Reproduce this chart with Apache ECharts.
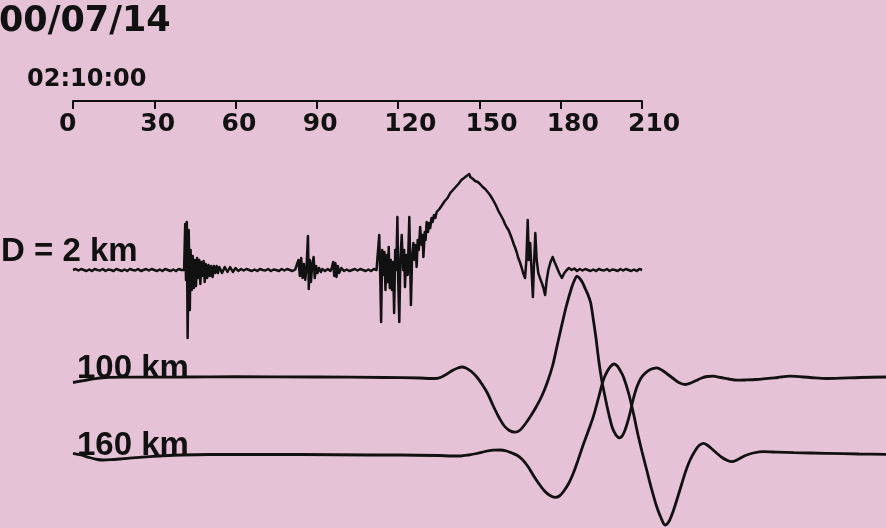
<!DOCTYPE html>
<html>
<head>
<meta charset="utf-8">
<script src="https://cdn.jsdelivr.net/npm/echarts@6/dist/echarts.min.js"></script>
<style>
html,body{margin:0;padding:0;background:#E6C2D7;}
#c{width:886px;height:528px;}
</style>
</head>
<body>
<div id="c"></div>
<script>
// ---- data ----
const titleText = '00/07/14';
const timeOrigin = '02:10:00';
const axisTicks = [0, 30, 60, 90, 120, 150, 180, 210];
const traceLabels = ['D = 2 km', '100 km', '160 km'];

// D = 2 km : times (s) and amplitudes (arbitrary units, up positive)
const dTimes = [
 0,1,2,3,4,5,6,7,8,9,10,11,12,13,14,15,16,17,18,19,20,21,22,23,24,25,26,27,28,29,30,31,32,33,34,35,36,37,38,39,40,
 41.0,41.4,41.7,42.0,42.3,42.7,43.1,43.4,43.8,44.2,44.6,45.0,45.4,45.8,46.2,46.6,47.0,47.4,47.8,48.2,48.6,49.0,49.5,50.0,50.5,51.0,51.5,52.0,52.5,53.0,53.5,54,55,56,57,58,59,60,61,
 62,63,64,65,66,67,68,69,70,71,72,73,74,75,76,77,78,79,80,81,82,
 82.5,83.2,83.7,84.2,84.7,85.2,85.7,86.2,86.7,87.0,87.4,87.8,88.3,88.8,89.2,89.7,90.2,90.8,91.5,92,93,94,95,95.5,96.0,96.4,96.8,97.2,97.7,98.2,99,
 100,101,102,103,104,105,106,107,108,109,110,111,112,
 112.5,113.0,113.4,113.7,114.1,114.5,114.9,115.3,115.7,116.1,116.5,116.9,117.3,117.7,118.1,118.5,118.9,119.3,119.7,120.0,120.4,120.8,121.3,121.8,122.2,122.5,123.0,123.5,124.1,124.4,124.7,125.1,125.6,126.0,126.4,126.8,127.2,127.6,128.1,128.6,129.0,129.3,129.8,130.1,130.5,131.0,131.4,131.8,132.3,132.7,133.2,133.7,134.2,134.7,135.2,135.7,136.2,136.7,137.2,137.7,138.2,138.7,139.2,139.7,140.2,140.7,141.2,141.7,142.2,142.8,143.3,143.8,144.3,144.7,145.2,145.7,146.2,146.6,147.1,147.6,148.0,148.4,148.9,149.4,149.8,150.2,150.7,151.2,151.6,152.1,152.6,153.0,153.5,153.9,154.5,155.0,155.5,156.0,156.4,157.0,157.6,158.2,158.8,159.4,160.0,160.7,161.3,162.0,162.6,163.2,163.7,164.3,164.9,165.6,166.2,166.8,167.3,167.8,168.2,168.7,169.2,169.7,170.1,170.6,171.1,171.7,172.3,173.0,173.6,174.2,174.8,175.4,176.2,177.0,177.7,178.5,179.4,180.4,181.3,182.2,
 183,184,185,186,187,188,189,190,191,192,193,194,195,196,197,198,199,200,201,202,203,204,205,206,207,208,209,210
];
const dValues = [
 0,1,-0.5,1,0,-1,0.5,-1,1,0,-0.5,1,-1,0.5,0,-1,1,0,-1,0.5,-1,1,0,-0.5,1,-1,0,1,-0.5,1,0,-1,0.5,-1,1,0,-1,0.5,-1,1,0,
 0,46,-10,48,-68,40,-40,20,-20,14,-18,10,-16,12,-8,10,-14,8,-6,9,-12,6,-8,5,-6,4,-7,4,-3,4,-3,3,-3,3,-2,3,-2,2,-1,
 1,-0.5,1,0,-1,0.5,-1,1,0,-0.5,1,-1,0.5,0,-1,1,-0.5,1,0,-1,0.5,
 0,10,-6,12,-8,6,-10,4,34,-19,10,-12,6,13,-8,4,-3,2,-2,1,-1,1,-1,2,8,-6,7,-7,4,-3,2,
 -1,0.5,-1,0,1,-0.5,1,0,-1,0.5,-1,1,0,
 0,35,-10,-52,20,-5,18,-20,15,-12,23,-18,10,-20,8,-43,20,0,53,-10,-52,10,35,0,20,-17,15,-5,53,10,-35,10,27,10,25,3,30,20,43,25,35,13,38,30,48,38,47,42,52,48,55,52,58,56,61,60,65,64,69,68,72,72,77,76,80,79,83,83,86,87,90,88,92,91,94,92,96,93,94,91,93,89,91,88,89,86,86,83,84,81,80,78,77,75,73,70,68,65,63,59,56,53,50,46,43,40,36,31,26,22,18,12,8,2,-4,-8,10,50,10,27,0,-27,5,37,10,-3,-8,-13,-18,-25,-10,0,8,13,8,3,-3,-8,-3,0,
 2,0,1.5,-1,1,-0.5,1,0,-1,0.5,-1,1,0,-0.5,1,-1,0.5,0,-1,1,-0.5,1,0,-1,0.5,-1,1,0
];

// 100 km
const t100 = [0,3,6,9,12,20,40,60,90,115,128,132,134,136,138,140,142,143.5,145,147,149,151,153,155,157,159,161,163.1,165,167,169,171,173,175,177,178.5,180,182,184,185,186,187,188,189,190,191,192,193,194,195,196,197,198,199,200,201,201.6,202.5,203.5,204.5,205.5,206.7,208,209.5,211,213,215.4,217.5,219.5,221.5,223.5,225.9,228,230,232,234,236.2,239,242,245,248,252,260,264.6,272,278.2,290.5,300];
const v100 = [-5,-3.5,-2,-0.8,0,0.3,0.5,0.8,0.5,0,-0.5,-1,-1,0.5,3.5,7,9.5,10.5,9.5,6,0.5,-7,-16,-28,-39,-48,-53,-54.7,-52.5,-46,-38,-29,-18.5,-5,12,30,48,71,90,97,101.3,99,95,89,83,75,58,39,17,-1,-15,-28,-40,-50,-56,-59.5,-60.3,-59,-54,-46,-36,-22,-10,-1,4,8,9.7,7,3,-1,-5,-7,-5.5,-3,-0.5,1,1.3,0,-1.5,-2.7,-2.5,-2,0,1.3,0,-1,0,0.5];

// 160 km
const t160 = [0,3,6,9,11,14,18,22,27,32,40,50,60,84,110,121,135,140,143,146,149,152,155,157.6,160,162,164,166,168,170,172,174,176,177.9,179.5,181,183,184.6,186,188,190,192,194,195.7,197,198.5,199.7,201,202,203.1,205,206.8,208.5,210,211.7,213.5,215.4,217,218.5,220,221.5,222.8,224.5,226,227.7,229.5,231,232.6,234,236,237.6,239.5,241.5,243.1,245,247,248.6,251,254.8,260,266,278,290,300];
const v160 = [1.7,0,-2.5,-4.5,-5,-4.7,-3.8,-2.8,-1.8,-1,0,0.5,0.5,0.5,0,0,-0.5,-1,-1,0,1.5,3.5,4.8,5,4,2,-0.5,-5,-12,-21,-29,-36,-40.5,-42.3,-41,-36.5,-28,-18.3,-8,8,23,38.3,58,75,83,89,91,88.5,84,78.3,62,41.7,20,3,-15,-34,-51.7,-63,-70,-66,-56,-45,-30,-17,-5,4,9.5,11.7,10,5.5,1.7,-2.5,-5.5,-6.7,-5,-2,0,2,3.3,2.8,2.3,1.7,1,0.7];

// ---- layout (positions in code, not data) ----
const baselines = [270, 377.5, 455];

function toSeries(times, vals, base) {
  return times.map((t, i) => [t, base - vals[i]]);
}

const chart = echarts.init(document.getElementById('c'), null, {renderer: 'canvas'});
const numFont = 'DejaVu Sans';

chart.setOption({
  backgroundColor: '#E6C2D7',
  animation: false,
  grid: [
    {left: 73, width: 569, top: 50, height: 51},
    {left: 73, width: 813, top: 0, height: 528}
  ],
  xAxis: [
    {gridIndex: 0, type: 'value', min: 0, max: 210, interval: 30, position: 'bottom',
     axisLine: {show: true, onZero: false, lineStyle: {color: '#111', width: 2}},
     axisTick: {show: true, length: 8, lineStyle: {color: '#111', width: 2}},
     axisLabel: {show: true, color: '#111', fontFamily: numFont, fontWeight: 'bold', fontSize: 25,
                 align: 'left', padding: [0, 0, 0, -14], margin: 11,
                 formatter: v => axisTicks.indexOf(v) >= 0 ? String(v) : ''},
     splitLine: {show: false}},
    {gridIndex: 1, type: 'value', min: 0, max: 300, show: false}
  ],
  yAxis: [
    {gridIndex: 0, type: 'value', show: false, min: 0, max: 1},
    {gridIndex: 1, type: 'value', show: false, min: 0, max: 528, inverse: true}
  ],
  series: [
    {type: 'line', xAxisIndex: 1, yAxisIndex: 1, showSymbol: false, silent: true,
     lineStyle: {color: '#111', width: 2.5, join: 'round'}, data: toSeries(dTimes, dValues, baselines[0])},
    {type: 'line', xAxisIndex: 1, yAxisIndex: 1, showSymbol: false, silent: true, smooth: 0.3,
     lineStyle: {color: '#111', width: 2.8}, data: toSeries(t100, v100, baselines[1])},
    {type: 'line', xAxisIndex: 1, yAxisIndex: 1, showSymbol: false, silent: true, smooth: 0.3,
     lineStyle: {color: '#111', width: 2.8}, data: toSeries(t160, v160, baselines[2])}
  ],
  graphic: [
    {type: 'text', left: -1, top: 4, style: {text: titleText, fill: '#111', font: 'bold 35px "DejaVu Sans"'}},
    {type: 'text', left: 27, top: 68, style: {text: timeOrigin, fill: '#111', font: 'bold 24px "DejaVu Sans"'}},
    {type: 'text', left: 1, top: 235, style: {text: traceLabels[0], fill: '#111', font: 'bold 33px "Liberation Sans"'}},
    {type: 'text', left: 77, top: 352, style: {text: traceLabels[1], fill: '#111', font: 'bold 33px "Liberation Sans"'}},
    {type: 'text', left: 77, top: 429, style: {text: traceLabels[2], fill: '#111', font: 'bold 33px "Liberation Sans"'}}
  ]
});
</script>
</body>
</html>
